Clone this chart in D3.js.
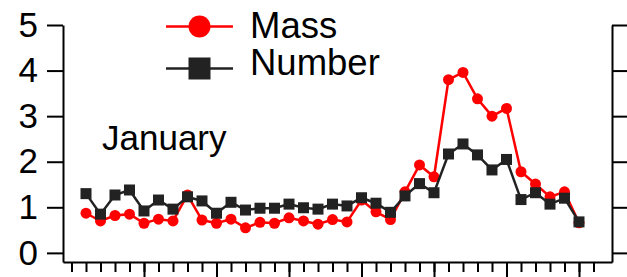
<!DOCTYPE html>
<html>
<head>
<meta charset="utf-8">
<script src="https://cdn.jsdelivr.net/npm/d3@7"></script>
<style>
  body { margin: 0; background: #fff; }
  text { font-family: "Liberation Sans", Arial, sans-serif; }
</style>
</head>
<body>
<div id="chart"></div>
<script>
const w = 627
const h = 277

// values, one per day
const days = d3.range(35)
const mass = [0.87, 0.70, 0.82, 0.85, 0.65, 0.74, 0.70, 1.27, 0.72, 0.65, 0.74, 0.55, 0.67, 0.65, 0.77, 0.70,
    0.63, 0.73, 0.68, 1.16, 0.90, 0.73, 1.34, 1.93, 1.67, 3.80, 3.96, 3.38, 3.00, 3.17, 1.78, 1.51, 1.23, 1.34, 0.66]
const number = [1.30, 0.85, 1.27, 1.38, 0.92, 1.16, 0.96, 1.23, 1.14, 0.87, 1.11, 0.94, 0.98, 0.98, 1.07, 0.99,
    0.96, 1.07, 1.03, 1.21, 1.09, 0.89, 1.25, 1.52, 1.32, 2.17, 2.39, 2.15, 1.82, 2.05, 1.17, 1.32, 1.07, 1.20, 0.68]
const yTicks = [0, 1, 2, 3, 4, 5]
const minorTicks = d3.range(-1, 36)
const majorTicks = [4, 9, 14, 19, 24, 29, 34]
const seriesNames = ['Mass', 'Number']
const label = 'January'

const svg = d3.select('#chart')
    .append('svg')
    .attr('width', w)
    .attr('height', h)

const xScale = d3.scaleLinear()
    .domain([-1.586, 36.276])
    .range([63, 612])

const yScale = d3.scaleLinear()
    .domain([-0.2, 5])
    .range([262, 25])

const red = '#ff0000'
const dark = '#222222'

// axes
const yAxis = d3.axisLeft(yScale)
    .tickValues(yTicks)
    .tickSize(16)
    .tickSizeOuter(0)
    .tickPadding(9)
    .tickFormat(d3.format('d'))

const yAxisRight = d3.axisRight(yScale)
    .tickValues(yTicks)
    .tickSize(15)
    .tickSizeOuter(0)
    .tickFormat('')

const xMinor = d3.axisBottom(xScale)
    .tickValues(minorTicks)
    .tickSize(10)
    .tickSizeOuter(0)
    .tickFormat('')

const xMajor = d3.axisBottom(xScale)
    .tickValues(majorTicks)
    .tickSize(20)
    .tickSizeOuter(0)
    .tickFormat('')

function styleAxis(g) {
    g.selectAll('path, line').attr('stroke', '#000').attr('stroke-width', 2)
    g.selectAll('text').attr('font-size', 35).attr('fill', '#000')
}

svg.append('g')
    .attr('transform', 'translate(63, 0)')
    .call(yAxis)
    .call(styleAxis)

svg.append('g')
    .attr('transform', 'translate(612, 0)')
    .call(yAxisRight)
    .call(styleAxis)

svg.append('g')
    .attr('transform', 'translate(0, 262)')
    .call(xMinor)
    .call(styleAxis)

svg.append('g')
    .attr('transform', 'translate(0, 262)')
    .call(xMajor)
    .call(styleAxis)
    .select('.domain').remove()

// series
const line = (vals) => d3.line()
    .x((d, i) => xScale(days[i]))
    .y((d) => yScale(d))(vals)

svg.append('path')
    .attr('d', line(mass))
    .attr('fill', 'none')
    .attr('stroke', red)
    .attr('stroke-width', 2.5)

svg.selectAll('circle.mass')
    .data(mass)
    .enter()
    .append('circle')
    .attr('class', 'mass')
    .attr('cx', (d, i) => xScale(days[i]))
    .attr('cy', (d) => yScale(d))
    .attr('r', 5.5)
    .attr('fill', red)

svg.append('path')
    .attr('d', line(number))
    .attr('fill', 'none')
    .attr('stroke', dark)
    .attr('stroke-width', 2.5)

svg.selectAll('rect.number')
    .data(number)
    .enter()
    .append('rect')
    .attr('class', 'number')
    .attr('x', (d, i) => xScale(days[i]) - 5.5)
    .attr('y', (d) => yScale(d) - 5.5)
    .attr('width', 11)
    .attr('height', 11)
    .attr('fill', dark)

// legend
const legend = svg.append('g')

legend.append('line')
    .attr('x1', 166).attr('x2', 233)
    .attr('y1', 26.5).attr('y2', 26.5)
    .attr('stroke', red).attr('stroke-width', 2.5)
legend.append('circle')
    .attr('cx', 199.5).attr('cy', 26.5).attr('r', 11)
    .attr('fill', red)
legend.append('text')
    .attr('x', 250)
    .attr('y', 37.5)
    .attr('font-size', 36.5)
    .text(seriesNames[0])

legend.append('line')
    .attr('x1', 166).attr('x2', 233)
    .attr('y1', 68.5).attr('y2', 68.5)
    .attr('stroke', dark).attr('stroke-width', 2.5)
legend.append('rect')
    .attr('x', 188.5).attr('y', 57.5).attr('width', 22).attr('height', 22)
    .attr('fill', dark)
legend.append('text')
    .attr('x', 250)
    .attr('y', 74.5)
    .attr('font-size', 36.5)
    .text(seriesNames[1])

svg.append('text')
    .attr('x', 102)
    .attr('y', 150)
    .attr('font-size', 35)
    .text(label)
</script>
</body>
</html>
